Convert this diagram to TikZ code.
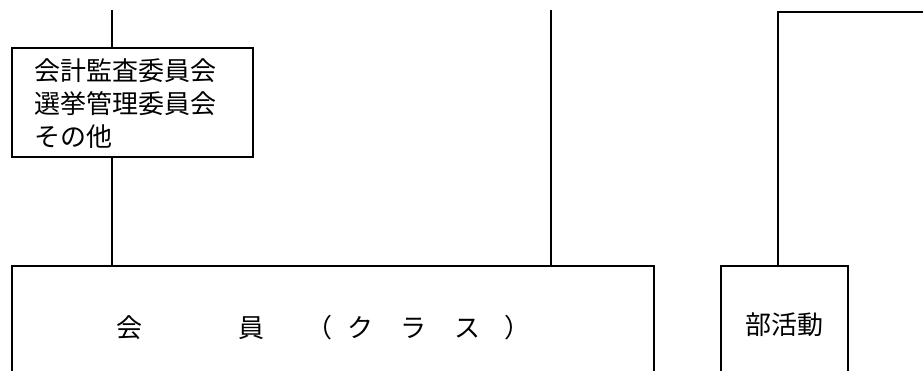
\documentclass[tikz,border=0pt]{standalone}
\usepackage{fontspec}
\newfontfamily\jp{Noto Sans CJK JP}
\begin{document}
\begin{tikzpicture}[x=1pt,y=-1pt,
  frame/.style={draw=black,line width=2.1pt,rectangle,inner sep=0pt},
  conn/.style={draw=black,line width=2.1pt},
  txt/.style={font=\jp\fontsize{26}{33.3}\selectfont,inner sep=0pt}]
\useasboundingbox[fill=white] (0,0) rectangle (923,371);
\clip (0,0) rectangle (923,371);
% boxes
\node[frame,minimum width=241pt,minimum height=109pt] (comm) at (132.5,102.5) {};
\node[txt,anchor=north west,align=left] (commtext) at (34,58) {会計監査委員会\\選挙管理委員会\\その他};
\node[frame,minimum width=642pt,minimum height=124pt] (members) at (333,328) {};
\node[txt,anchor=base west] (memtext) at (116,337)
 {\makebox[122pt][l]{会}\makebox[68pt][l]{員}\makebox[41pt][l]{（}\makebox[53pt][l]{ク}\makebox[54pt][l]{ラ}\makebox[50pt][l]{ス}\makebox[26pt][l]{）}};
\node[frame,minimum width=127pt,minimum height=124pt] (clubs) at (784.5,328) {};
\node[txt] (clubtext) at (784.5,325) {部活動};
% connectors
\coordinate (topA) at (112,10);
\coordinate (topB) at (551,10);
\coordinate (topC) at (778,12);
\coordinate (endC) at (930,12);
\draw[conn] (topA) -- (topA |- comm.north);
\draw[conn] (topA |- comm.south) -- (topA |- members.north);
\draw[conn] (topB) -- (topB |- members.north);
\draw[conn] (endC) -- (topC) -- (topC |- clubs.north);
\end{tikzpicture}
\end{document}
